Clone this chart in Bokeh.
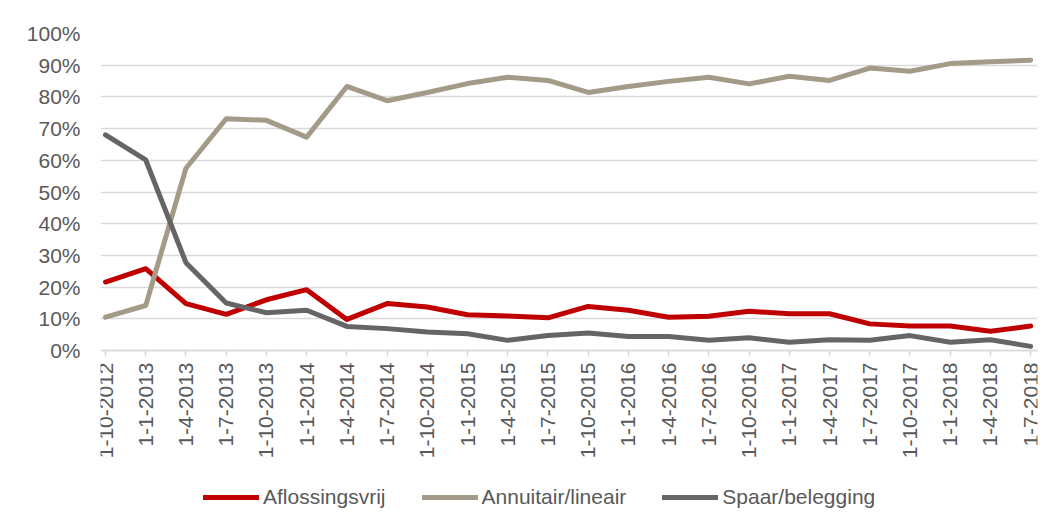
import math
from bokeh.plotting import figure
from bokeh.models import FixedTicker, PrintfTickFormatter, Legend, LegendItem, Range1d
from bokeh.embed import file_html
from bokeh.resources import INLINE

dates = ["1-10-2012", "1-1-2013", "1-4-2013", "1-7-2013", "1-10-2013", "1-1-2014",
         "1-4-2014", "1-7-2014", "1-10-2014", "1-1-2015", "1-4-2015", "1-7-2015",
         "1-10-2015", "1-1-2016", "1-4-2016", "1-7-2016", "1-10-2016", "1-1-2017",
         "1-4-2017", "1-7-2017", "1-10-2017", "1-1-2018", "1-4-2018", "1-7-2018"]

aflossingsvrij = [21.6, 25.8, 14.8, 11.4, 16.0, 19.2, 9.8, 14.8, 13.7, 11.3, 10.9, 10.3,
                  13.9, 12.7, 10.5, 10.8, 12.4, 11.6, 11.6, 8.4, 7.7, 7.7, 6.1, 7.7]
annuitair = [10.5, 14.2, 57.5, 73.1, 72.6, 67.3, 83.3, 78.8, 81.4, 84.2, 86.2, 85.2,
             81.4, 83.3, 84.9, 86.2, 84.1, 86.5, 85.2, 89.1, 88.1, 90.5, 91.1, 91.6]
spaar = [68.0, 60.1, 27.7, 15.0, 11.9, 12.7, 7.6, 6.9, 5.8, 5.3, 3.2, 4.7,
         5.5, 4.4, 4.4, 3.2, 4.0, 2.6, 3.4, 3.2, 4.7, 2.6, 3.4, 1.3]

series_names = ["Aflossingsvrij", "Annuitair/lineair", "Spaar/belegging"]
colors = ["#C00000", "#A39B88", "#656565"]

x = list(range(len(dates)))
FONT = "Liberation Sans"
FS = "21px"
TXT = "#595959"
GRID = "#D9D9D9"

H = 521
TOP = 33
ZERO_PX = 350
px_per_unit = (ZERO_PX - TOP) / 100.0
y_start = -(H - ZERO_PX) / px_per_unit

p = figure(width=1051, height=H, output_backend="svg", toolbar_location=None,
           x_range=Range1d(-0.125, len(dates) - 1 + 0.17), y_range=Range1d(y_start, 100),
           min_border_left=100, min_border_right=14, min_border_top=TOP, min_border_bottom=0)
p.outline_line_color = None
p.background_fill_color = "white"
p.border_fill_color = "white"

renderers = []
for vals, c in zip([aflossingsvrij, annuitair, spaar], colors):
    r = p.line(x, vals, line_color=c, line_width=5, line_cap="round", line_join="round")
    renderers.append(r)

p.xgrid.grid_line_color = None
p.ygrid.grid_line_color = GRID
p.ygrid.grid_line_width = 1.5
p.ygrid.ticker = FixedTicker(ticks=list(range(0, 101, 10)))

p.yaxis.ticker = FixedTicker(ticks=list(range(0, 101, 10)))
p.yaxis.formatter = PrintfTickFormatter(format="%d%%")
p.yaxis.axis_line_color = None
p.yaxis.major_tick_line_color = None
p.yaxis.minor_tick_line_color = None
p.yaxis.major_label_standoff = 14
p.yaxis.major_label_text_font = FONT
p.yaxis.major_label_text_font_size = FS
p.yaxis.major_label_text_color = TXT

p.xaxis.fixed_location = 0
p.xaxis.ticker = FixedTicker(ticks=x)
p.xaxis.major_label_overrides = {i: d for i, d in enumerate(dates)}
p.xaxis.major_label_orientation = math.pi / 2
p.xaxis.axis_line_color = GRID
p.xaxis.axis_line_width = 1.5
p.xaxis.major_tick_line_color = GRID
p.xaxis.major_tick_line_width = 1.5
p.xaxis.major_tick_out = 6
p.xaxis.major_tick_in = 0
p.xaxis.minor_tick_line_color = None
p.xaxis.major_label_standoff = 6
p.xaxis.major_label_text_font = FONT
p.xaxis.major_label_text_font_size = FS
p.xaxis.major_label_text_color = TXT

legend = Legend(items=[LegendItem(label=n, renderers=[r]) for n, r in zip(series_names, renderers)],
                orientation="horizontal", location=(103, 12), padding=0, margin=0,
                spacing=36, glyph_width=56, glyph_height=24, label_standoff=4,
                label_text_font=FONT, label_text_font_size=FS, label_text_color=TXT,
                border_line_color=None, background_fill_alpha=0)
p.add_layout(legend, "center")

open("out.html", "w").write(file_html(p, INLINE))
